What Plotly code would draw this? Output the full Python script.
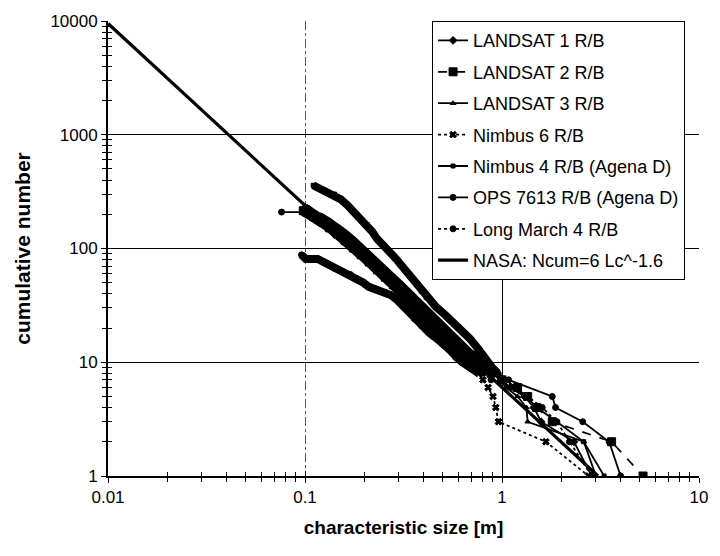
import plotly.graph_objects as go

# ---------------- data ----------------
series_names = [
    "LANDSAT 1 R/B",
    "LANDSAT 2 R/B",
    "LANDSAT 3 R/B",
    "Nimbus 6 R/B",
    "Nimbus 4 R/B (Agena D)",
    "OPS 7613 R/B (Agena D)",
    "Long March 4 R/B",
]

landsat1_x = [0.100, 0.106, 0.115, 0.125, 0.137, 0.150, 0.165, 0.180, 0.197, 0.215, 0.235, 0.257, 0.280,
              0.305, 0.333, 0.365, 0.400, 0.440, 0.485, 0.535, 0.590, 0.650, 0.720, 0.790, 0.850, 0.950,
              1.000, 1.100, 1.300, 1.450, 1.580, 2.320, 2.850]
landsat1_n = [230, 215, 198, 180, 160, 142, 124, 108, 94, 81, 70, 60, 52, 44, 37, 31, 26, 22, 18, 15, 13,
              12, 11, 10, 9, 8, 7, 6, 5, 4, 3, 2, 1]

landsat2_x = [0.098, 0.104, 0.112, 0.122, 0.133, 0.146, 0.160, 0.176, 0.193, 0.212, 0.233, 0.256, 0.281,
              0.309, 0.340, 0.374, 0.412, 0.455, 0.500, 0.550, 0.605, 0.665, 0.730, 0.800, 0.880, 1.000,
              1.200, 1.350, 1.500, 1.800, 3.600, 5.200]
landsat2_n = [215, 205, 190, 172, 152, 134, 117, 101, 88, 76, 65, 56, 48, 41, 35, 30, 25, 21, 18, 15, 13,
              11, 10, 9, 8, 7, 6, 5, 4, 3, 2, 1]

landsat3_x = [0.102, 0.110, 0.120, 0.131, 0.144, 0.158, 0.173, 0.190, 0.208, 0.228, 0.250, 0.274, 0.300,
              0.330, 0.362, 0.398, 0.438, 0.482, 0.530, 0.582, 0.640, 0.700, 0.770, 0.840, 0.900, 0.970,
              1.050, 1.200, 1.330, 1.350, 2.600, 3.000]
landsat3_n = [225, 205, 185, 163, 142, 123, 107, 93, 80, 69, 60, 52, 45, 38, 33, 28, 24, 20, 17, 14, 12,
              11, 10, 9, 8, 7, 6, 5, 4, 3, 2, 1]

nimbus6_x = [0.100, 0.108, 0.118, 0.129, 0.141, 0.155, 0.170, 0.187, 0.205, 0.225, 0.247, 0.271, 0.297,
             0.326, 0.358, 0.380, 0.410, 0.450, 0.490, 0.540, 0.590, 0.630, 0.700, 0.760, 0.800, 0.850,
             0.900, 0.930, 0.960, 1.670, 2.750]
nimbus6_n = [205, 190, 172, 155, 137, 120, 104, 90, 78, 67, 58, 50, 43, 37, 31, 26, 22, 19, 16, 13, 11,
             10, 9, 8, 7, 6, 5, 4, 3, 2, 1]

nimbus4_x = [0.110, 0.120, 0.131, 0.141, 0.152, 0.164, 0.174, 0.184, 0.195, 0.207, 0.219, 0.232, 0.246,
             0.260, 0.276, 0.292, 0.309, 0.327, 0.347, 0.367, 0.389, 0.412, 0.460, 0.515, 0.570, 0.625,
             0.690, 0.760, 0.840, 0.890, 0.950, 1.070, 1.150, 1.330, 1.500, 1.900, 2.600, 3.300]
nimbus4_n = [360, 333, 315, 301, 270, 241, 218, 197, 178, 162, 141, 122, 111, 100, 89, 80, 71, 63, 55, 48,
             42, 37, 31, 26, 22, 19, 16, 13, 10, 9, 8, 7, 6, 5, 4, 3, 2, 1]

ops7613_x = [0.076, 0.097, 0.103, 0.110, 0.120, 0.132, 0.145, 0.158, 0.174, 0.191, 0.209, 0.229, 0.251,
             0.275, 0.302, 0.331, 0.363, 0.398, 0.437, 0.479, 0.525, 0.575, 0.631, 0.692, 0.759, 0.832,
             0.950, 1.080, 1.800, 1.870, 2.570, 3.500, 4.000]
ops7613_n = [209, 209, 205, 200, 190, 172, 155, 138, 120, 104, 90, 77, 66, 57, 49, 42, 36, 31, 26, 22, 19,
             16, 14, 12, 11, 10, 8, 7, 5, 4, 3, 2, 1]

longmarch_x = [0.096, 0.101, 0.116, 0.128, 0.141, 0.155, 0.170, 0.184, 0.198, 0.211, 0.234, 0.255, 0.272,
               0.290, 0.310, 0.335, 0.360, 0.390, 0.430, 0.470, 0.510, 0.560, 0.600, 0.640, 0.720, 0.800,
               0.880, 1.150, 1.350, 1.600, 1.900, 2.200, 2.850]
longmarch_n = [88, 81, 81, 74, 67, 63, 59, 54, 50, 46, 43, 41, 39, 36, 32, 28, 24, 21, 18, 16, 14, 12, 11,
               10, 9, 8, 7, 6, 5, 4, 3, 2, 1]

nasa_name = "NASA: Ncum=6 Lc^-1.6"
nasa_x = [0.01, 3.07]
nasa_n = [9509, 1]

x_tickvals = [0.01, 0.1, 1, 10]
x_ticktext = ["0.01", "0.1", "1", "10"]
y_tickvals = [1, 10, 100, 1000, 10000]
y_ticktext = ["1", "10", "100", "1000", "10000"]

x_title = "characteristic size [m]"
y_title = "cumulative number"

# ---------------- styles ----------------
series_data = [
    (landsat1_x, landsat1_n),
    (landsat2_x, landsat2_n),
    (landsat3_x, landsat3_n),
    (nimbus6_x, nimbus6_n),
    (nimbus4_x, nimbus4_n),
    (ops7613_x, ops7613_n),
    (longmarch_x, longmarch_n),
]
series_style = [
    dict(dash="solid", symbol="diamond", size=6),
    dict(dash="dash", symbol="square", size=8),
    dict(dash="solid", symbol="triangle-up", size=5),
    dict(dash="dot", symbol="x", size=6),
    dict(dash="solid", symbol="square", size=4),
    dict(dash="solid", symbol="circle", size=6),
    dict(dash="dot", symbol="circle", size=6),
]

FONT = "Liberation Sans, Arial, Helvetica, sans-serif"
fig = go.Figure()

for i, (name, (xs, ns), st) in enumerate(zip(series_names, series_data, series_style)):
    grp = f"g{i}"
    # dense part of the cumulative curve (many overlapping points -> thick band)
    dx = [x for x, n in zip(xs, ns) if n >= 8 and x >= 0.09]
    dn = [n for x, n in zip(xs, ns) if n >= 8 and x >= 0.09]
    fig.add_trace(go.Scatter(
        x=dx, y=dn, mode="lines", legendgroup=grp, showlegend=False,
        xaxis="x2", yaxis="y2",
        line=dict(color="black", width=8), hoverinfo="skip"))
    fig.add_trace(go.Scatter(
        x=xs, y=ns, mode="lines+markers", name=name, legendgroup=grp,
        line=dict(color="black", width=1.8, dash=st["dash"]),
        marker=dict(color="black", symbol=st["symbol"], size=st["size"],
                    line=dict(color="black", width=1))))

fig.add_trace(go.Scatter(
    x=nasa_x, y=nasa_n, mode="lines", name=nasa_name, legendgroup="g7",
    xaxis="x3", yaxis="y3",
    line=dict(color="black", width=3.2)))

minor_x = [m * 10 ** e for e in (-2, -1, 0) for m in range(2, 10)]
minor_y = [m * 10 ** e for e in (0, 1, 2, 3) for m in range(2, 10)]

tick_common = dict(tickcolor="black", tickwidth=1.2, ticklen=5)

fig.update_layout(
    width=720, height=556,
    margin=dict(l=108, r=13, t=17, b=80),
    paper_bgcolor="white", plot_bgcolor="white",
    font=dict(family=FONT, color="black", size=17),
    showlegend=True,
    legend=dict(
        x=0.548, y=1.0, xanchor="left", yanchor="top",
        bgcolor="white", bordercolor="black", borderwidth=1.2,
        font=dict(family=FONT, size=18, color="black"),
        traceorder="grouped", tracegroupgap=5, itemwidth=30,
    ),
    xaxis=dict(
        type="log", range=[-2, 1], tickmode="array",
        tickvals=x_tickvals, ticktext=x_ticktext,
        ticks="outside", **tick_common,
        showline=True, linecolor="black", linewidth=1.8,
        showgrid=True, gridcolor="#555", gridwidth=1, griddash="dashdot",
        minor=dict(tickmode="array", tickvals=minor_x, ticks="outside",
                   ticklen=4, tickwidth=1, tickcolor="black", showgrid=False),
        tickfont=dict(size=17, family=FONT),
        title=dict(text=f"<b>{x_title}</b>", font=dict(size=19, family=FONT), standoff=14),
        zeroline=False,
    ),
    xaxis2=dict(
        type="log", range=[-2, 1], overlaying="x", anchor="y2", side="bottom",
        tickmode="array", tickvals=x_tickvals, showticklabels=False,
        ticks="inside", **tick_common,
        showgrid=False, showline=False, zeroline=False,
        minor=dict(tickmode="array", tickvals=minor_x, ticks="inside",
                   ticklen=4, tickwidth=1, tickcolor="black", showgrid=False),
    ),
    xaxis3=dict(
        type="log", range=[-2, 1], overlaying="x", anchor="y3", side="bottom",
        tickmode="array", tickvals=[1], showticklabels=False, ticks="",
        showgrid=True, gridcolor="black", gridwidth=1.2,
        showline=False, zeroline=False,
    ),
    yaxis=dict(
        type="log", range=[0, 4], tickmode="array",
        tickvals=y_tickvals, ticktext=y_ticktext,
        ticks="outside", **tick_common,
        showline=True, linecolor="black", linewidth=1.8,
        showgrid=True, gridcolor="#555", gridwidth=1, griddash="dot",
        minor=dict(tickmode="array", tickvals=minor_y, ticks="outside",
                   ticklen=4, tickwidth=1, tickcolor="black", showgrid=False),
        tickfont=dict(size=17, family=FONT),
        title=dict(text=f"<b>{y_title}</b>", font=dict(size=21, family=FONT), standoff=14),
        zeroline=False,
    ),
    yaxis2=dict(
        type="log", range=[0, 4], overlaying="y", anchor="x2", side="left",
        tickmode="array", tickvals=y_tickvals, showticklabels=False,
        ticks="inside", **tick_common,
        showgrid=False, showline=False, zeroline=False,
        minor=dict(tickmode="array", tickvals=minor_y, ticks="inside",
                   ticklen=4, tickwidth=1, tickcolor="black", showgrid=False),
    ),
    yaxis3=dict(
        type="log", range=[0, 4], overlaying="y", anchor="x3", side="left",
        tickmode="array", tickvals=[10, 100, 1000], showticklabels=False, ticks="",
        showgrid=True, gridcolor="black", gridwidth=1.2,
        showline=False, zeroline=False,
    ),
)

fig.write_html("out.html")
